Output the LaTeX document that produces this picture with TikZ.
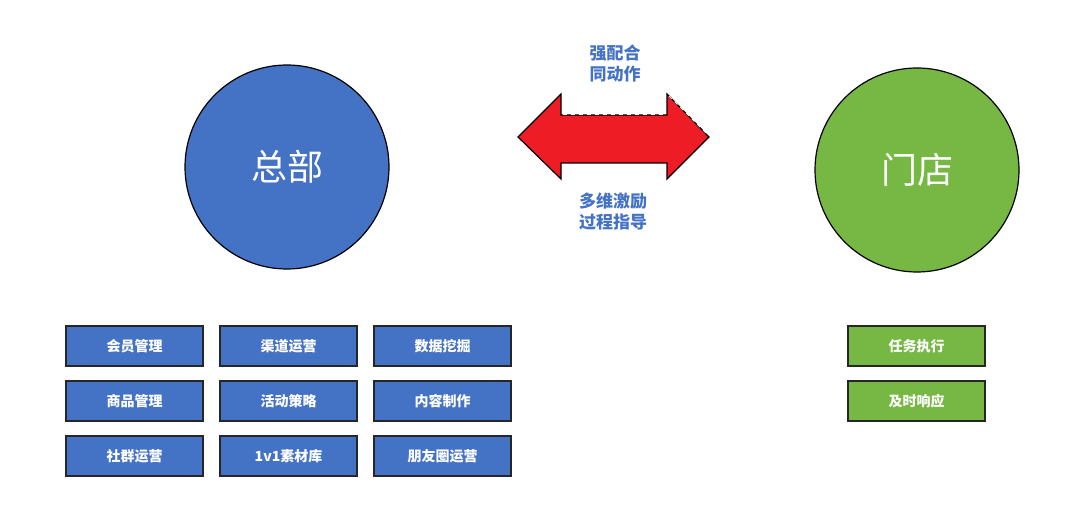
\documentclass[tikz,border=0pt]{standalone}
\usepackage{fontspec}
\setmainfont{Noto Sans CJK SC}
\definecolor{myblue}{HTML}{4472C4}
\definecolor{mygreen}{HTML}{76B843}
\definecolor{myred}{HTML}{EE1C25}
\begin{document}
\begin{tikzpicture}[x=1pt,y=-1pt,
  circ/.style={circle,draw=black,line width=1.2pt,minimum size=204pt,text=white,font=\fontsize{36}{40}\selectfont},
  box/.style={rectangle,draw=black!85,line width=1.5pt,minimum width=137pt,minimum height=40pt,text=white,font=\bfseries\fontsize{14}{16}\selectfont,inner sep=0pt},
  lbl/.style={text=myblue,font=\bfseries\fontsize{17}{21}\selectfont,align=center}]
\useasboundingbox (0,0) rectangle (1080,516);
\node[circ,fill=myblue] (hq) at (287,167) {总部};
\node[circ,fill=mygreen] (st) at (917,170) {门店};
\draw[fill=myred,draw=black,line width=1.2pt] (518,137) -- (561,94) -- (561,115) -- (667,115) -- (667,94) -- (709,137) -- (667,179) -- (667,163) -- (561,163) -- (561,179) -- cycle;
\draw[white,line width=1pt,dash pattern=on 4pt off 4pt] (563,115) -- (665,115);
\draw[white,line width=1pt,dash pattern=on 4pt off 4pt] (669,96) -- (707,134);
\node[lbl] (t1) at (615,63) {强配合\\同动作};
\node[lbl] (t2) at (613,212) {多维激励\\过程指导};
\foreach \t [count=\i from 0] in {会员管理,渠道运营,数据挖掘,商品管理,活动策略,内容制作,社群运营,1v1素材库,朋友圈运营}{
  \pgfmathtruncatemacro\c{mod(\i,3)}
  \pgfmathtruncatemacro\r{div(\i,3)}
  \node[box,fill=myblue] (b\i) at ({134.5+154*\c},{346+55*\r}) {\t};
}
\node[box,fill=mygreen] (g0) at (916.5,346) {任务执行};
\node[box,fill=mygreen] (g1) at (916.5,401) {及时响应};
\end{tikzpicture}
\end{document}
